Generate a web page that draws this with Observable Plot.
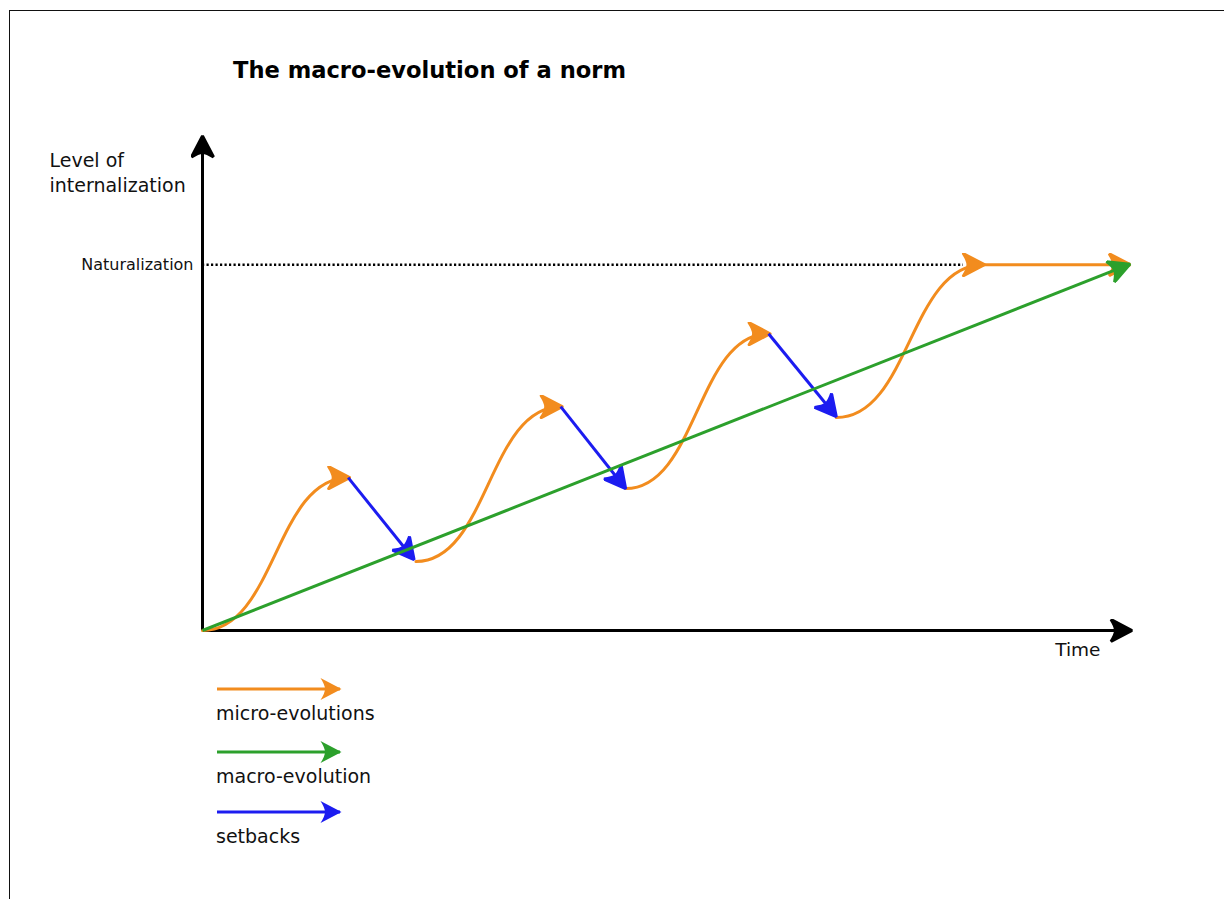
<!DOCTYPE html>
<html><head><meta charset="utf-8">
<script src="https://cdn.jsdelivr.net/npm/d3@7"></script>
<script src="https://cdn.jsdelivr.net/npm/@observablehq/plot@0.6"></script>
<style>
html,body{margin:0;padding:0;background:#fff;}
#page{position:relative;width:1224px;height:899px;overflow:hidden;font-family:"DejaVu Sans",sans-serif;}
#chart,#legend{position:absolute;left:0;top:0;}
#frame{position:absolute;left:9px;top:10px;right:-5px;bottom:-5px;border-left:1.5px solid #111;border-top:1.5px solid #111;pointer-events:none;}
#title{position:absolute;left:233px;top:59px;margin:0;font:bold 22.6px/1 "DejaVu Sans",sans-serif;color:#000;white-space:nowrap;}
</style></head>
<body>
<div id="page"><div id="chart"></div><div id="legend"></div><div id="frame"></div><h1 id="title">The macro-evolution of a norm</h1></div>
<script>
// ---- data (time units 0..10, level units 0..10) ----
const timeAxisMax = 10;
const levelAxisMax = 10;
const naturalization = 7.42;          // level of the "Naturalization" line
const dottedEndT = 8.20;              // where the dotted guide ends
const plateauEndT = 9.98;             // end of the flat micro-evolution
const microStartT = [0, 2.30, 4.56, 6.83];
const microStartL = [0, 1.40, 2.88, 4.32];
const microPeakT  = [1.57, 3.86, 6.10, 8.41];
const microPeakL  = [3.10, 4.54, 6.02, 7.42];
const setbackEndT = [2.27, 4.55, 6.82];
const setbackEndL = [1.46, 2.90, 4.36];
const macroStart = [0, 0];
const macroEnd = [9.98, 7.42];
const legendLabels = ["micro-evolutions", "macro-evolution", "setbacks"];
const colors = {micro: "#f28c1e", macro: "#2ca02c", setback: "#1c1cf0", axis: "#000"};
const legendColors = [colors.micro, colors.macro, colors.setback];
const yLabel = "Level of\ninternalization";
const xLabel = "Time";
const natLabel = "Naturalization";

// ---- custom filled arrow head marker ----
function head(color, context) {
  const ns = "http://www.w3.org/2000/svg";
  const doc = (context && context.document) || document;
  const m = doc.createElementNS(ns, "marker");
  m.setAttribute("viewBox", "-22 -12 25 24");
  m.setAttribute("markerWidth", 25);
  m.setAttribute("markerHeight", 24);
  m.setAttribute("markerUnits", "userSpaceOnUse");
  m.setAttribute("refX", 0);
  m.setAttribute("refY", 0);
  m.setAttribute("orient", "auto");
  const p = doc.createElementNS(ns, "path");
  p.setAttribute("d", "M1.5,0 L-19.5,-11 Q-15,-4 -15,0 Q-15,4 -19.5,11 Z");
  p.setAttribute("fill", color);
  m.appendChild(p);
  return m;
}

const microRows = microStartT.flatMap((t, i) => [
  {seg: i, t, l: microStartL[i]},
  {seg: i, t: microPeakT[i], l: microPeakL[i]}
]);
const setbackRows = setbackEndT.map((t, i) => ({t1: microPeakT[i], l1: microPeakL[i], t2: t, l2: setbackEndL[i]}));
const plateauRows = [{t1: microPeakT[3], l1: naturalization, t2: plateauEndT, l2: naturalization}];
const macroRows = [{t1: macroStart[0], l1: macroStart[1], t2: macroEnd[0], l2: macroEnd[1]}];
const axisRows = [
  {t1: 0, l1: 0, t2: timeAxisMax, l2: 0},
  {t1: 0, l1: 0, t2: 0, l2: levelAxisMax}
];

const chart = Plot.plot({
  width: 1224,
  height: 899,
  margin: 0,
  style: {background: "transparent", fontFamily: "DejaVu Sans, sans-serif"},
  x: {domain: [0, timeAxisMax], range: [202, 1130], axis: null},
  y: {domain: [0, levelAxisMax], range: [630, 137], axis: null},
  marks: [
    Plot.ruleY([naturalization], {x1: 0, x2: dottedEndT, stroke: "#000", strokeWidth: 2.4, strokeDasharray: "2.2,2.3"}),
    Plot.link(axisRows, {x1: "t1", y1: "l1", x2: "t2", y2: "l2", stroke: colors.axis, strokeWidth: 3, markerEnd: head}),
    Plot.line(microRows, {x: "t", y: "l", z: "seg", curve: "bump-x", stroke: colors.micro, strokeWidth: 3, markerEnd: head}),
    Plot.link(plateauRows, {x1: "t1", y1: "l1", x2: "t2", y2: "l2", stroke: colors.micro, strokeWidth: 3, markerEnd: head}),
    Plot.link(setbackRows, {x1: "t1", y1: "l1", x2: "t2", y2: "l2", stroke: colors.setback, strokeWidth: 3, markerEnd: head}),
    Plot.link(macroRows, {x1: "t1", y1: "l1", x2: "t2", y2: "l2", stroke: colors.macro, strokeWidth: 3, markerEnd: head}),
    Plot.text([yLabel], {text: d => d, x: 0, y: levelAxisMax, dx: -153, dy: 54, textAnchor: "start", lineAnchor: "bottom", lineHeight: 1.3, fontSize: 19, fill: "#111"}),
    Plot.text([natLabel], {text: d => d, x: 0, y: naturalization, dx: -9, dy: 5.5, textAnchor: "end", lineAnchor: "bottom", fontSize: 16, fill: "#111"}),
    Plot.text([xLabel], {text: d => d, x: timeAxisMax, y: 0, dx: -30, dy: 25, textAnchor: "end", lineAnchor: "bottom", fontSize: 18.5, fill: "#111"})
  ]
});
document.getElementById("chart").appendChild(chart);

// ---- legend ----
const lg = d3.select("#legend").append("svg").attr("width", 1224).attr("height", 899);
const legendY = [689, 752, 812], legendX1 = 217, legendX2 = 340;
const defs = lg.append("defs");
legendColors.forEach((c, i) => {
  const mk = head(c, {document});
  mk.setAttribute("id", "lgm" + i);
  defs.node().appendChild(mk);
});
const items = lg.selectAll("g").data(legendLabels).join("g")
  .attr("transform", (d, i) => `translate(0,${legendY[i]})`);
items.append("line")
  .attr("x1", legendX1).attr("x2", legendX2).attr("y1", 0).attr("y2", 0)
  .attr("stroke", (d, i) => legendColors[i]).attr("stroke-width", 3)
  .attr("marker-end", (d, i) => `url(#lgm${i})`);
items.append("text")
  .attr("x", legendX1 - 1).attr("y", 31)
  .attr("font-family", "DejaVu Sans, sans-serif").attr("font-size", 19).attr("fill", "#111")
  .text(d => d);
</script>
</body></html>
